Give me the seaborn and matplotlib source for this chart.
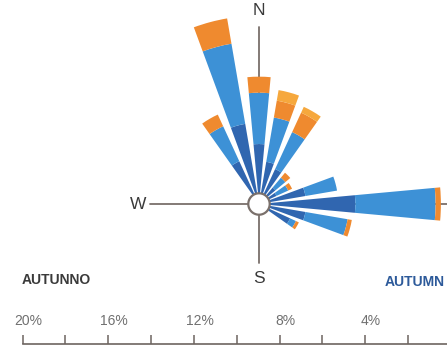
import numpy as np
import matplotlib
matplotlib.use("Agg")
import matplotlib.pyplot as plt
import matplotlib.transforms as mtransforms
import seaborn as sns

# wind directions (degrees from north) and stacked frequencies (%)
directions = [-30, -15, 0, 15, 30, 45, 60, 75, 90, 105, 120]
calm_part = [2.2, 3.8, 2.8, 2.0, 1.8, 1.0, 0.9, 2.2, 4.5, 2.2, 1.6]
moderate_part = [1.8, 3.8, 2.4, 2.1, 1.9, 0.6, 0.6, 1.5, 3.75, 2.0, 0.3]
strong_part = [0.6, 1.2, 0.75, 0.8, 1.0, 0.3, 0.2, 0.0, 0.25, 0.2, 0.15]
gale_part = [0.0, 0.0, 0.0, 0.5, 0.3, 0.0, 0.0, 0.0, 0.0, 0.0, 0.0]
series_colors = ["#3066b0", "#3d91d6", "#ef8a2f", "#f6a83d"]

scale_ticks = [20, 18, 16, 14, 12, 10, 8, 6, 4, 2, 0]
scale_labels = ["20%", "", "16%", "", "12%", "", "8%", "", "4%", "", "0%"]

sns.set_style("white")
plt.rcParams["font.family"] = ["Liberation Sans", "DejaVu Sans"]

W, H = 447, 353
px_per_pct = 21.4
cx, cy = 259, 204
half = 220
rmax = half / px_per_pct

fig = plt.figure(figsize=(W / 100, H / 100), dpi=100)
fig.patch.set_facecolor("white")

ax = fig.add_axes([(cx - half) / W, (H - cy - half) / H, 2 * half / W, 2 * half / H],
                  projection="polar")
ax.set_theta_zero_location("N")
ax.set_theta_direction(-1)
ax.set_ylim(0, rmax)
ax.grid(False)
ax.set_xticks([])
ax.set_yticks([])
ax.spines["polar"].set_visible(False)
ax.patch.set_alpha(0)

line_col = "#7a706b"
# compass arms
ax.plot([0, 0], [0, 8.25], color=line_col, lw=1.3, zorder=1)
ax.plot([np.pi / 2] * 2, [0, 9.8], color=line_col, lw=1.3, zorder=1)
ax.plot([np.pi] * 2, [0, 2.75], color=line_col, lw=1.3, zorder=1)
ax.plot([3 * np.pi / 2] * 2, [0, 5.1], color=line_col, lw=1.3, zorder=1)

theta = np.deg2rad(directions)
width = np.deg2rad(10.5)
bottom = np.zeros(len(directions))
for part, col in zip([calm_part, moderate_part, strong_part, gale_part], series_colors):
    vals = np.array(part)
    ax.bar(theta, vals, width=width, bottom=bottom, color=col, edgecolor="none",
           linewidth=0, zorder=2)
    bottom += vals

# center circle
ring = np.linspace(0, 2 * np.pi, 120)
ax.fill(ring, np.full_like(ring, 0.5), facecolor="white", edgecolor=line_col,
        lw=1.6, zorder=3)

txt_col = "#3a3a3a"
ax.text(0, (cy - 10) / px_per_pct, "N", ha="center", va="center", fontsize=12.5, color=txt_col)
ax.text(np.pi, (278 - cy) / px_per_pct, "S", ha="center", va="center", fontsize=12.5, color=txt_col)
ax.text(3 * np.pi / 2, (cx - 138) / px_per_pct, "W", ha="center", va="center", fontsize=12.5, color=txt_col)

fig.text(22 / W, 1 - 280 / H, "AUTUNNO", fontsize=10, fontweight="bold", color="#3a3a3a",
         va="center", ha="left")
fig.text(385 / W, 1 - 282 / H, "AUTUMN", fontsize=10, fontweight="bold", color="#2d5a9a",
         va="center", ha="left")

# percentage scale
sax = fig.add_axes([22.7 / W, (H - 344) / H, 20 * px_per_pct / W, 9 / H])
sax.set_xlim(20, 0)
sax.set_ylim(0, 1)
sax.set_yticks([])
sax.set_xticks(scale_ticks)
sax.set_xticklabels(scale_labels)
for s in ["top", "left", "right"]:
    sax.spines[s].set_visible(False)
sax.spines["bottom"].set_color("#6d6560")
sax.spines["bottom"].set_linewidth(1.2)
sax.patch.set_alpha(0)
sax.tick_params(axis="x", direction="in", length=6.5, width=1.1, color="#6d6560",
                bottom=True, top=False, labelbottom=False, labeltop=True,
                pad=5, labelsize=10, labelcolor="#707070")
shift = mtransforms.ScaledTranslation(6 / 100, 0, fig.dpi_scale_trans)
for lab in sax.get_xticklabels():
    lab.set_transform(lab.get_transform() + shift)

fig.savefig("out.png", dpi=100)
